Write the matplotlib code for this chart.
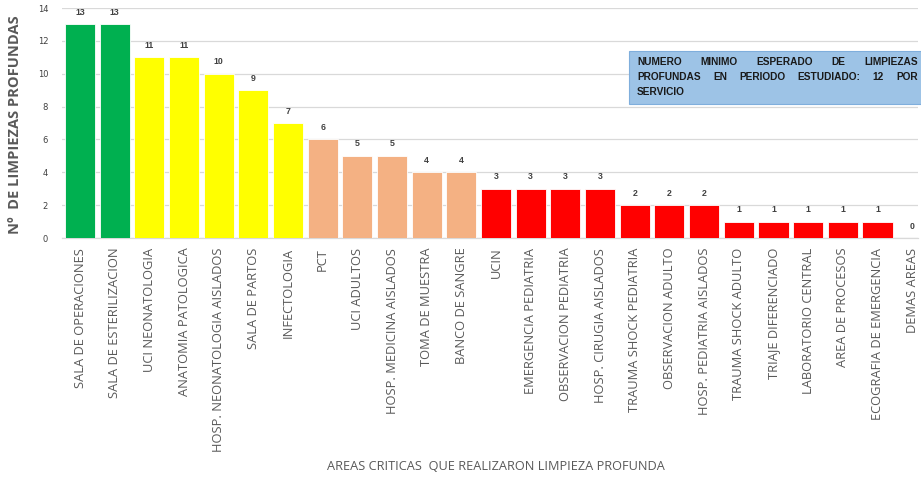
import matplotlib
matplotlib.use("Agg")
import matplotlib.pyplot as plt
from matplotlib.patches import Rectangle

categories = [
    "SALA DE OPERACIONES", "SALA DE ESTERILIZACION", "UCI NEONATOLOGIA",
    "ANATOMIA PATOLOGICA", "HOSP. NEONATOLOGIA AISLADOS", "SALA DE PARTOS",
    "INFECTOLOGIA", "PCT", "UCI ADULTOS", "HOSP. MEDICINA AISLADOS",
    "TOMA DE MUESTRA", "BANCO DE SANGRE", "UCIN", "EMERGENCIA PEDIATRIA",
    "OBSERVACION PEDIATRIA", "HOSP. CIRUGIA AISLADOS", "TRAUMA SHOCK PEDIATRIA",
    "OBSERVACION ADULTO", "HOSP. PEDIATRIA AISLADOS", "TRAUMA SHOCK ADULTO",
    "TRIAJE DIFERENCIADO", "LABORATORIO CENTRAL", "AREA DE PROCESOS",
    "ECOGRAFIA DE EMERGENCIA", "DEMAS AREAS",
]
values = [13, 13, 11, 11, 10, 9, 7, 6, 5, 5, 4, 4, 3, 3, 3, 3, 2, 2, 2, 1, 1, 1, 1, 1, 0]
groups = ["g"] * 2 + ["y"] * 5 + ["o"] * 5 + ["r"] * 13
palette = {"g": "#00B050", "y": "#FFFF00", "o": "#F4B183", "r": "#FF0000"}
y_ticks = [0, 2, 4, 6, 8, 10, 12, 14]
note_lines = [
    "NUMERO MINIMO ESPERADO  DE LIMPIEZAS",
    "PROFUNDAS EN PERIODO ESTUDIADO: 12 POR",
    "SERVICIO",
]

W, H = 921, 480
fig = plt.figure(figsize=(W / 100, H / 100), dpi=100)
ax = fig.add_axes([62 / W, 1 - 238 / H, (918 - 62) / W, (238 - 8) / H])

x = list(range(len(categories)))
ax.bar(x, values, width=0.87, color=[palette[g] for g in groups],
       edgecolor="white", linewidth=0.6, zorder=3)
for xi, v in zip(x, values):
    ax.text(xi, v + 0.45, str(v), ha="center", va="bottom", fontsize=6.3,
            color="#404040", fontweight="bold", family="Liberation Sans")

ax.set_xlim(-0.52, 24.17)
ax.set_ylim(0, 14)
ax.set_yticks(y_ticks)
ax.set_yticklabels([str(t) for t in y_ticks], fontsize=6, color="#404040")
ax.yaxis.grid(True, color="#D9D9D9", linewidth=0.9, zorder=0)
ax.tick_params(axis="y", length=0, pad=10)
ax.tick_params(axis="x", length=0, pad=7)
ax.set_xticks(x)
ax.set_xticklabels(categories, rotation=90, fontsize=9.3, color="#595959",
                   family="Open Sans")
for s in ["top", "right", "left"]:
    ax.spines[s].set_visible(False)
ax.spines["bottom"].set_color("#D9D9D9")
ax.spines["bottom"].set_linewidth(0.9)

fig.text(15 / W, 1 - 125 / H, "Nº  DE LIMPIEZAS PROFUNDAS", rotation=90,
         ha="center", va="center", fontsize=10.5, fontweight="bold",
         color="#595959", family="Open Sans")
fig.text(496 / W, 1 - 467 / H, "AREAS CRITICAS  QUE REALIZARON LIMPIEZA PROFUNDA",
         ha="center", va="center", fontsize=9.2, color="#595959", family="Open Sans")

# note box
bx0, by0, bx1, by1 = 629, 51, 925, 104
fig.patches.append(Rectangle((bx0 / W, 1 - by1 / H), (bx1 - bx0) / W, (by1 - by0) / H,
                             transform=fig.transFigure, facecolor="#9DC3E6",
                             edgecolor="#7FAEDC", linewidth=0.8, zorder=5))
fig.canvas.draw()
renderer = fig.canvas.get_renderer()
left, right = 637, 918
line_y = [62, 77, 92]
for li, (line, ly) in enumerate(zip(note_lines, line_y)):
    words = line.split()
    justify = li < len(note_lines) - 1
    texts = []
    for w in words:
        t = fig.text(0, 1 - ly / H, w, ha="left", va="center", fontsize=7.3,
                     fontweight="bold", color="#1a1a1a", family="Liberation Sans",
                     zorder=6)
        texts.append(t)
    widths = [t.get_window_extent(renderer).width for t in texts]
    if justify and len(words) > 1:
        gap = (right - left - sum(widths)) / (len(words) - 1)
    else:
        gap = 4
    cx = left
    for t, wdt in zip(texts, widths):
        t.set_x(cx / W)
        cx += wdt + gap

fig.savefig("out.png", dpi=100)
